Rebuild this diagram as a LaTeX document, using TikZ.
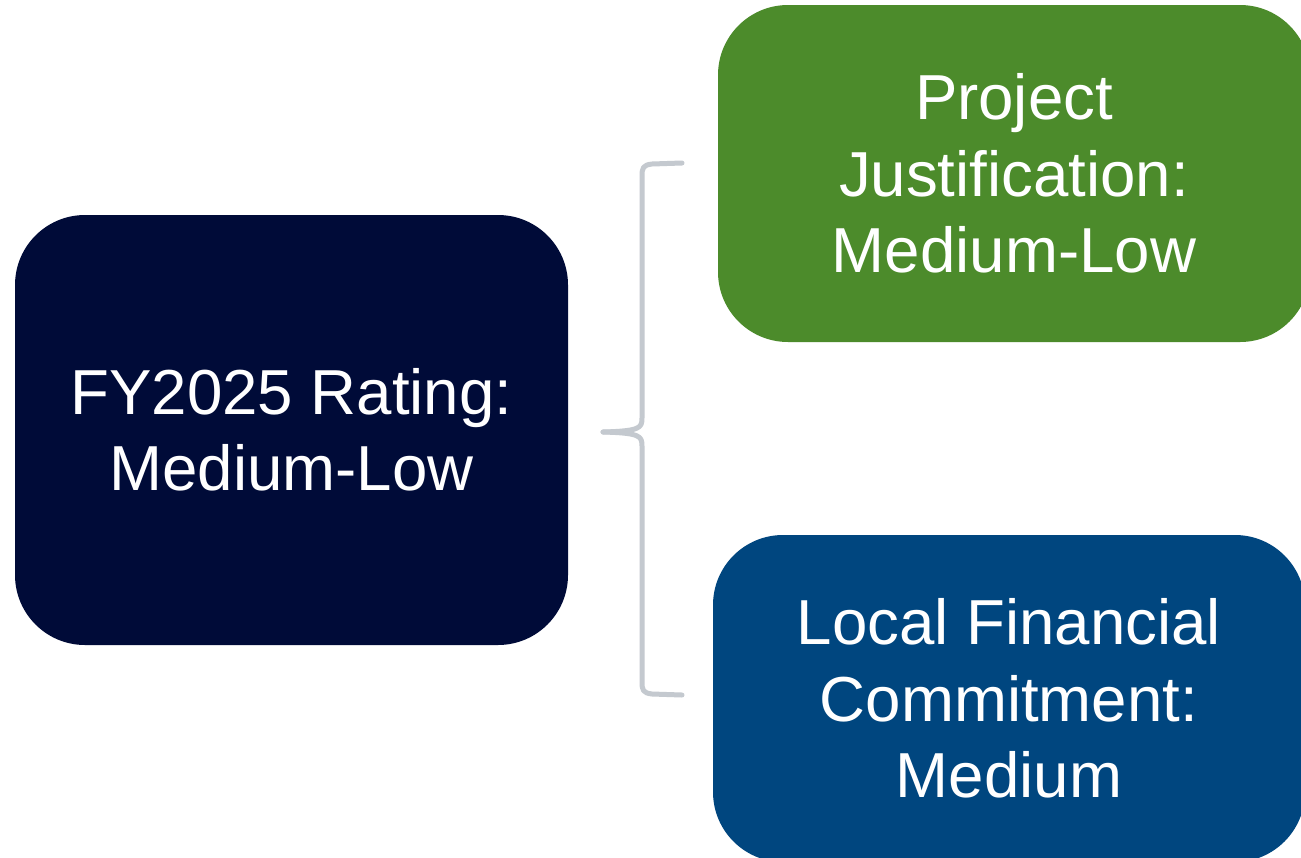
\documentclass[tikz,border=0pt]{standalone}
\usepackage{fontspec}
\setmainfont{Liberation Sans}
\definecolor{navybox}{HTML}{000B38}
\definecolor{greenbox}{HTML}{4C8B2B}
\definecolor{bluebox}{HTML}{00467F}
\definecolor{bracegray}{HTML}{C4C9CF}
\tikzset{
  card/.style={rounded corners=70pt, inner sep=0pt, text=white, align=center,
    font=\fontsize{63.6}{76.5}\selectfont},
  bracestyle/.style={draw=bracegray, line width=5pt, line cap=round, line join=round},
}
\begin{document}
\begin{tikzpicture}[x=1pt,y=-1pt]
\useasboundingbox (0,0) rectangle (1301,857);
\clip (0,0) rectangle (1301,857);
\fill[white] (0,0) rectangle (1301,857);
\node[card, fill=navybox, minimum width=553pt, minimum height=430pt] (rating) at (291.5,430) {FY2025 Rating:\\Medium-Low};
\node[card, fill=greenbox, minimum width=592pt, minimum height=337pt] (just) at (1014,173.5) {Project\\Justification:\\Medium-Low};
\node[card, fill=bluebox, minimum width=592pt, minimum height=327pt] (local) at (1009,698.5) {Local Financial\\Commitment:\\Medium};
\coordinate (btop) at (682,163);
\coordinate (bbot) at (682,695);
\coordinate (btip) at (603,432);
\draw[bracestyle] (btop) -- (652,164) .. controls (643,165) and (642,168) .. (642,176)
  -- (642,418) .. controls (642,428) and (640,431) .. (btip);
\draw[bracestyle] (btip) .. controls (640,433) and (642,436) .. (642,446)
  -- (642,682) .. controls (642,690) and (643,693) .. (652,694) -- (bbot);
\end{tikzpicture}
\end{document}
